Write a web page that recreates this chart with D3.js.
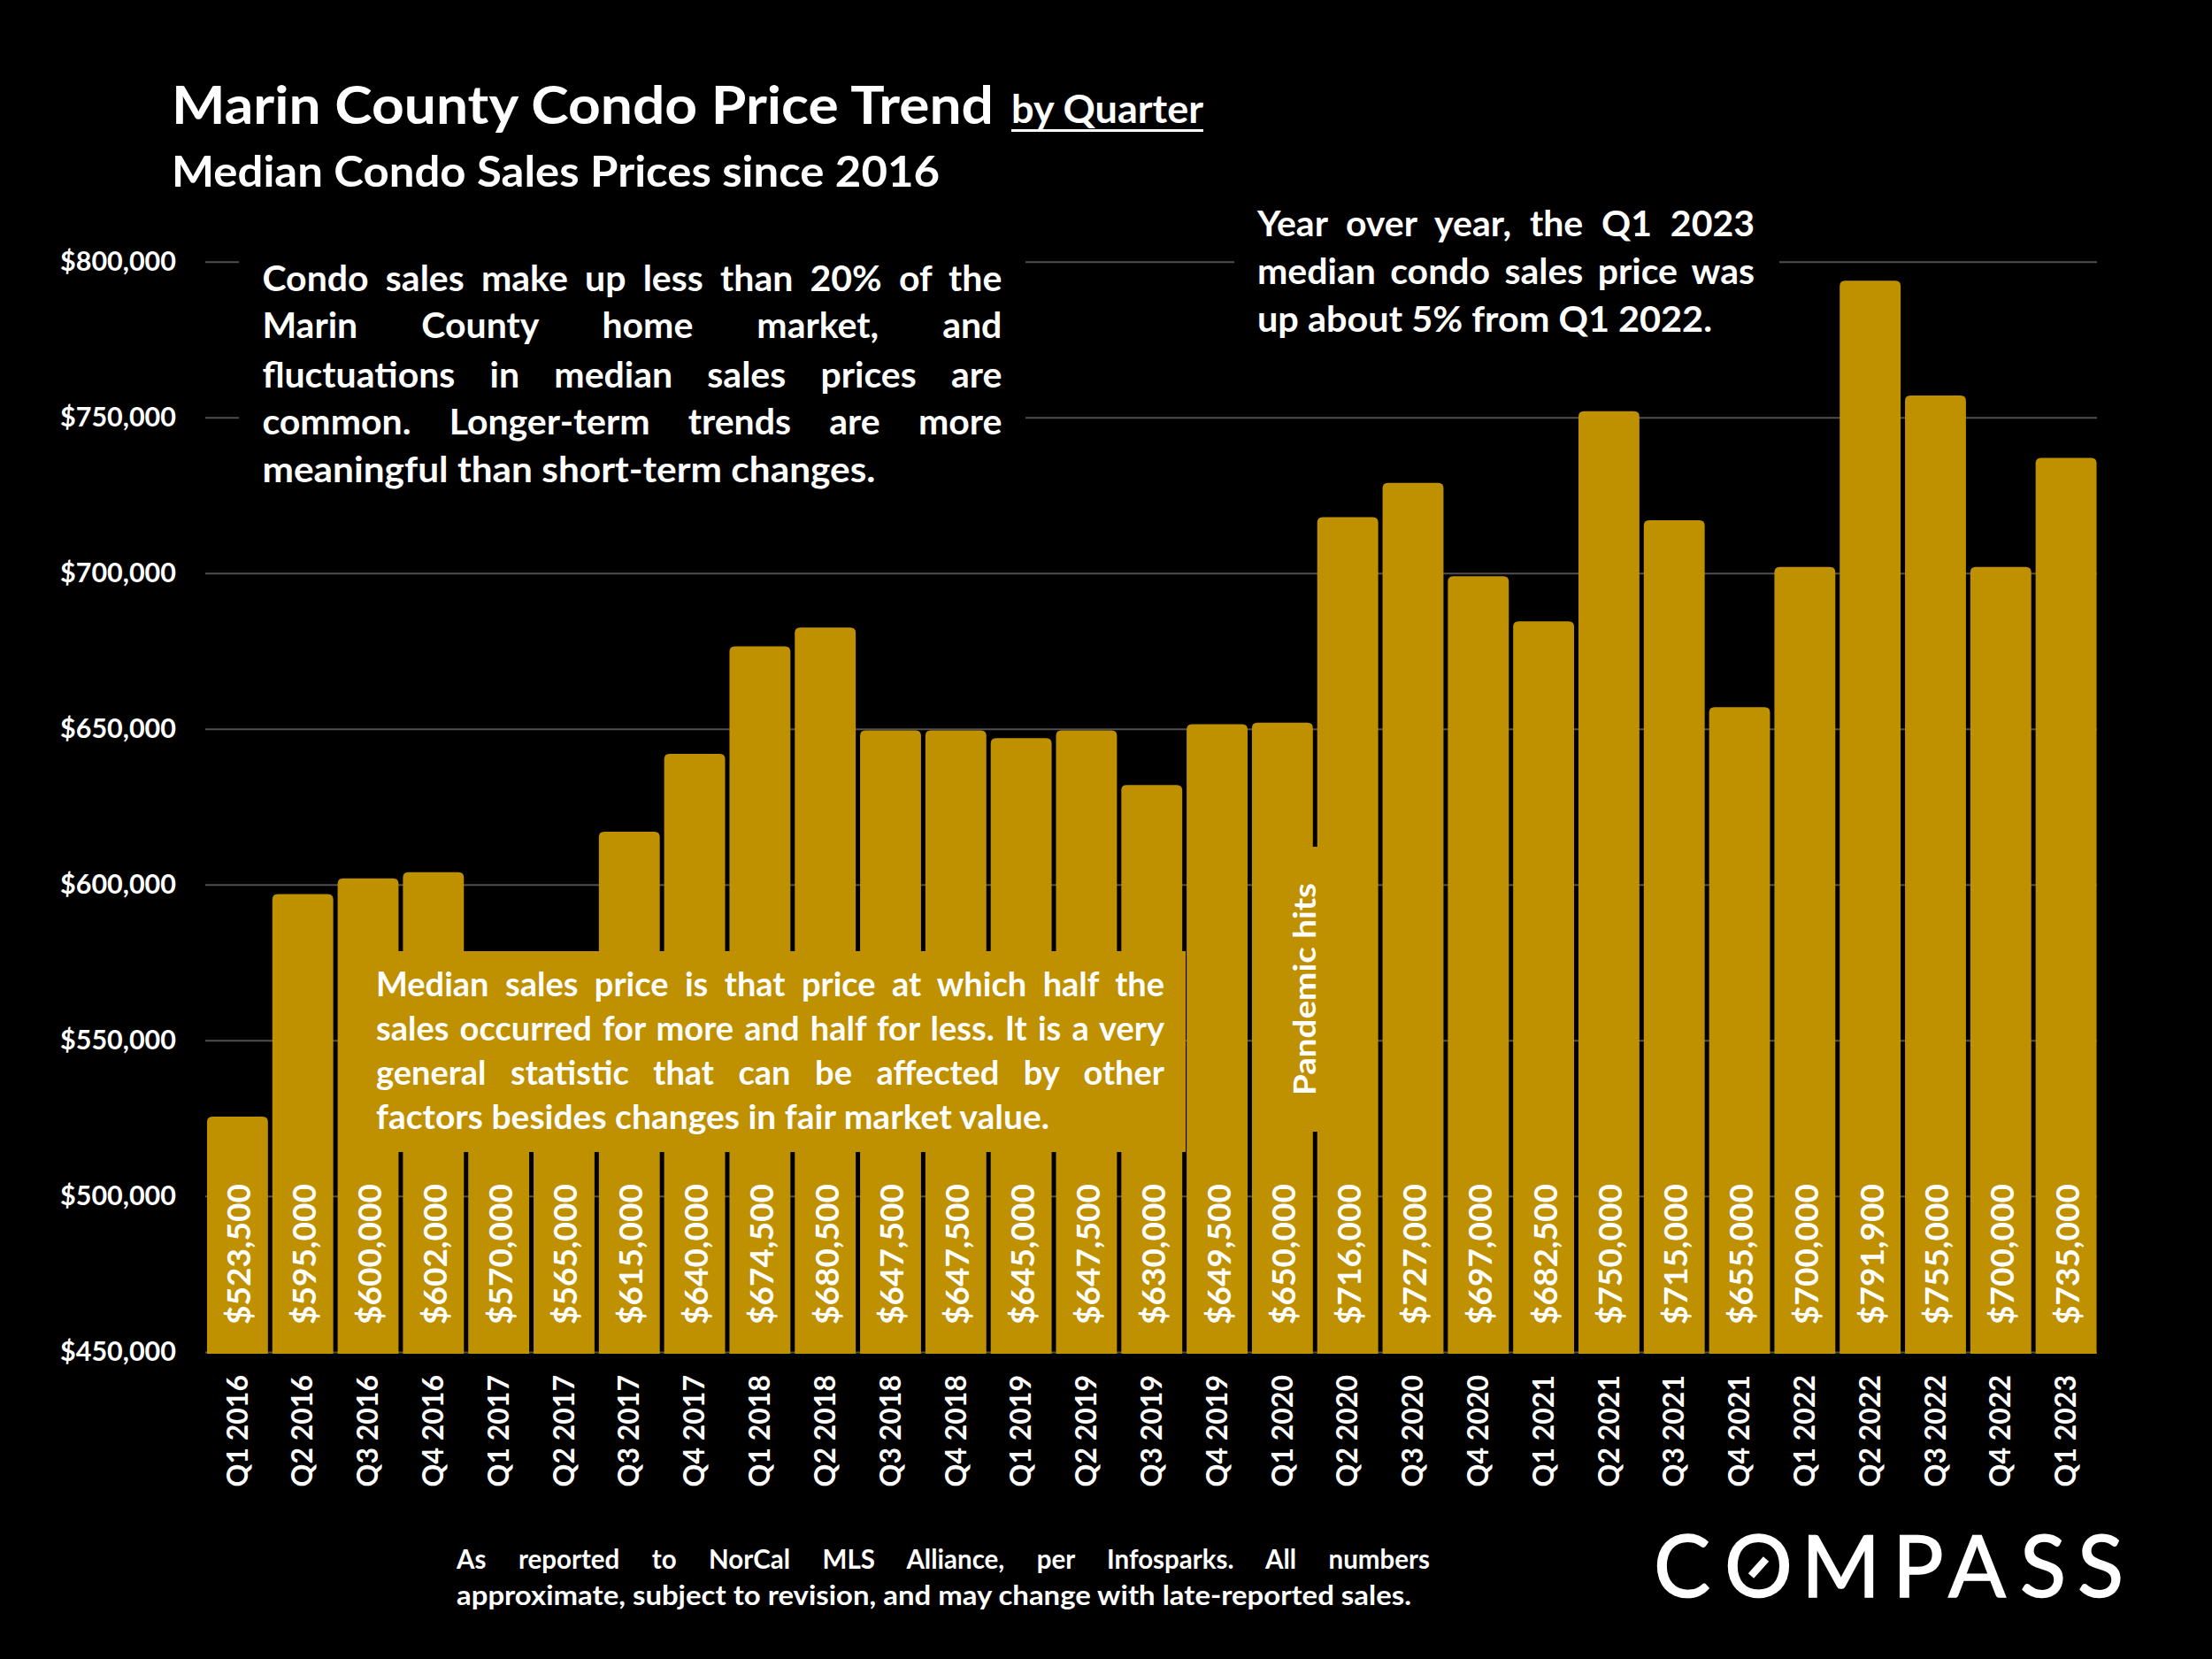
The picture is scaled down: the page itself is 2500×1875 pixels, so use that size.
<!DOCTYPE html>
<html>
<head>
<meta charset="utf-8">
<script src="https://cdn.jsdelivr.net/npm/d3@7"></script>
<style>
  body { margin: 0; background: #000; }
  text { font-family: "Lato", "Open Sans", sans-serif; font-weight: 700; fill: #fff; }
</style>
</head>
<body>
<div id="chart"></div>
<script>
// Data
const quarters = [
  'Q1 2016', 'Q2 2016', 'Q3 2016', 'Q4 2016',
  'Q1 2017', 'Q2 2017', 'Q3 2017', 'Q4 2017',
  'Q1 2018', 'Q2 2018', 'Q3 2018', 'Q4 2018',
  'Q1 2019', 'Q2 2019', 'Q3 2019', 'Q4 2019',
  'Q1 2020', 'Q2 2020', 'Q3 2020', 'Q4 2020',
  'Q1 2021', 'Q2 2021', 'Q3 2021', 'Q4 2021',
  'Q1 2022', 'Q2 2022', 'Q3 2022', 'Q4 2022',
  'Q1 2023'
];
const prices = [
  523500, 595000, 600000, 602000,
  570000, 565000, 615000, 640000,
  674500, 680500, 647500, 647500,
  645000, 647500, 630000, 649500,
  650000, 716000, 727000, 697000,
  682500, 750000, 715000, 655000,
  700000, 791900, 755000, 700000,
  735000
];
const yTicks = [450000, 500000, 550000, 600000, 650000, 700000, 750000, 800000];

// Notes on the chart, one entry per printed line
const noteMarket = [
  'Condo sales make up less than 20% of the',
  'Marin County home market, and',
  'fluctuations in median sales prices are',
  'common. Longer-term trends are more',
  'meaningful than short-term changes.'
];
const noteYear = [
  'Year over year, the Q1 2023',
  'median condo sales price was',
  'up about 5% from Q1 2022.'
];
const noteMedian = [
  'Median sales price is that price at which half the',
  'sales occurred for more and half for less. It is a very',
  'general statistic that can be affected by other',
  'factors besides changes in fair market value.'
];
const noteSource = [
  'As reported to NorCal MLS Alliance, per Infosparks. All numbers',
  'approximate, subject to revision, and may change with late-reported sales.'
];

const gold = '#BF9000';
const gridColor = '#505050';

// The bars in the picture stand a little above their printed value
const barOverhang = 2000;

const svg = d3.select('#chart')
  .append('svg')
  .attr('width', 2500)
  .attr('height', 1875)
  .style('display', 'block');

svg.append('rect').attr('width', 2500).attr('height', 1875).attr('fill', '#000');

const x = d3.scaleBand()
  .domain(quarters)
  .range([231.5, 2372])
  .paddingInner(0.067)
  .paddingOuter(0.0335);

const y = d3.scaleLinear()
  .domain([450000, 800000])
  .range([1527.9, 295.7]);

// y axis with the gridlines
const yAxis = svg.append('g')
  .attr('transform', 'translate(232,0)')
  .call(d3.axisLeft(y)
    .tickValues(yTicks)
    .tickFormat(d3.format('$,'))
    .tickSize(-2138)
    .tickPadding(33));
yAxis.select('.domain').remove();
yAxis.selectAll('line').attr('stroke', gridColor).attr('stroke-width', 2);
yAxis.selectAll('text')
  .attr('font-size', 30.5)
  .style('font-family', '"Lato", sans-serif')
  .attr('fill', '#fff');

// Bars, square at the bottom and slightly rounded on top
const corner = 6;
function barPath(d, i) {
  const left = x(quarters[i]);
  const right = left + x.bandwidth();
  const top = y(d + barOverhang);
  const bottom = y(450000) + 2;
  const p = d3.path();
  p.moveTo(left, bottom);
  p.lineTo(left, top + corner);
  p.quadraticCurveTo(left, top, left + corner, top);
  p.lineTo(right - corner, top);
  p.quadraticCurveTo(right, top, right, top + corner);
  p.lineTo(right, bottom);
  p.closePath();
  return p.toString();
}

svg.append('g')
  .selectAll('path')
  .data(prices)
  .join('path')
  .attr('d', barPath)
  .attr('fill', gold);

// Value labels inside the bars
svg.append('g')
  .selectAll('text')
  .data(prices)
  .join('text')
  .attr('transform', (d, i) => `translate(${x(quarters[i]) + x.bandwidth() / 2 + 2},1497) rotate(-90)`)
  .attr('dy', '0.35em')
  .attr('font-size', 37)
  .text(d => d3.format('$,')(d));

// x axis labels
const xAxis = svg.append('g')
  .attr('transform', 'translate(0,1530)')
  .call(d3.axisBottom(x).tickSize(0).tickPadding(0));
xAxis.select('.domain').remove();
xAxis.selectAll('text')
  .attr('transform', 'translate(0,24) rotate(-90)')
  .attr('x', 0)
  .attr('y', 0)
  .attr('dy', '0.35em')
  .style('text-anchor', 'end')
  .style('font-family', '"Lato", sans-serif')
  .attr('font-size', 32)
  .attr('fill', '#fff');

// Draw one line of text: either stretched to its width by the word gaps, or fitted exactly
function addLine(parent, str, left, base, size, width, justify) {
  const t = parent.append('text')
    .attr('x', left)
    .attr('y', base)
    .attr('font-size', size)
    .text(str);
  if (justify) {
    const natural = t.node().getComputedTextLength();
    const gaps = str.split(' ').length - 1;
    t.attr('word-spacing', (width - natural) / gaps);
  } else {
    t.attr('textLength', width).attr('lengthAdjust', 'spacingAndGlyphs');
  }
  return t;
}

// Draw a note block, the last line keeps its own width
function addNote(lines, left, bases, size, width, lastWidth) {
  const g = svg.append('g');
  lines.forEach((str, i) => {
    const isLast = i === lines.length - 1;
    addLine(g, str, left, bases[i], size, isLast ? lastWidth : width, !isLast);
  });
}

// Black backing of the two upper notes cuts the gridlines
svg.append('rect').attr('x', 270).attr('y', 285).attr('width', 889).attr('height', 275).attr('fill', '#000');
svg.append('rect').attr('x', 1395).attr('y', 225).attr('width', 616).attr('height', 170).attr('fill', '#000');
// Gold backing of the lower note and of the pandemic label
svg.append('rect').attr('x', 383).attr('y', 1075).attr('width', 957).attr('height', 227).attr('fill', gold);
svg.append('rect').attr('x', 1445).attr('y', 957).attr('width', 50).attr('height', 322).attr('fill', gold);

addNote(noteMarket, 296.4, [328.6, 382, 437.5, 491, 544.6], 41, 836, 693);
addNote(noteYear, 1421, [266.7, 320.7, 375], 41, 562, 514);
addNote(noteMedian, 425, [1126, 1175.8, 1225.5, 1276], 38, 891, 761);
addNote(noteSource, 516, [1773, 1814], 29.5, 1100, 1079);

// Pandemic label
svg.append('text')
  .attr('transform', 'translate(1475,1238) rotate(-90)')
  .attr('dy', '0.35em')
  .attr('font-size', 35)
  .attr('textLength', 240)
  .attr('lengthAdjust', 'spacingAndGlyphs')
  .text('Pandemic hits');

// Titles
addLine(svg, 'Marin County Condo Price Trend', 194, 140, 60, 929, false);
addLine(svg, 'by Quarter', 1143, 139, 43, 217, false);
svg.append('rect').attr('x', 1143).attr('y', 146).attr('width', 217).attr('height', 3).attr('fill', '#fff');
addLine(svg, 'Median Condo Sales Prices since 2016', 194, 210.7, 48, 868, false);

// Logo wordmark, letters placed one by one, the O gets its bar drawn inside
svg.append('text')
  .attr('x', '1869 1949 2036 2139 2202 2283 2348')
  .attr('y', 1805)
  .attr('font-size', 96)
  .attr('stroke', '#fff')
  .attr('stroke-width', 1.5)
  .style('font-weight', 400)
  .text('COMPASS');
svg.append('line')
  .attr('x1', 1979)
  .attr('y1', 1781)
  .attr('x2', 1996)
  .attr('y2', 1762)
  .attr('stroke', '#fff')
  .attr('stroke-width', 8.5);
</script>
</body>
</html>
